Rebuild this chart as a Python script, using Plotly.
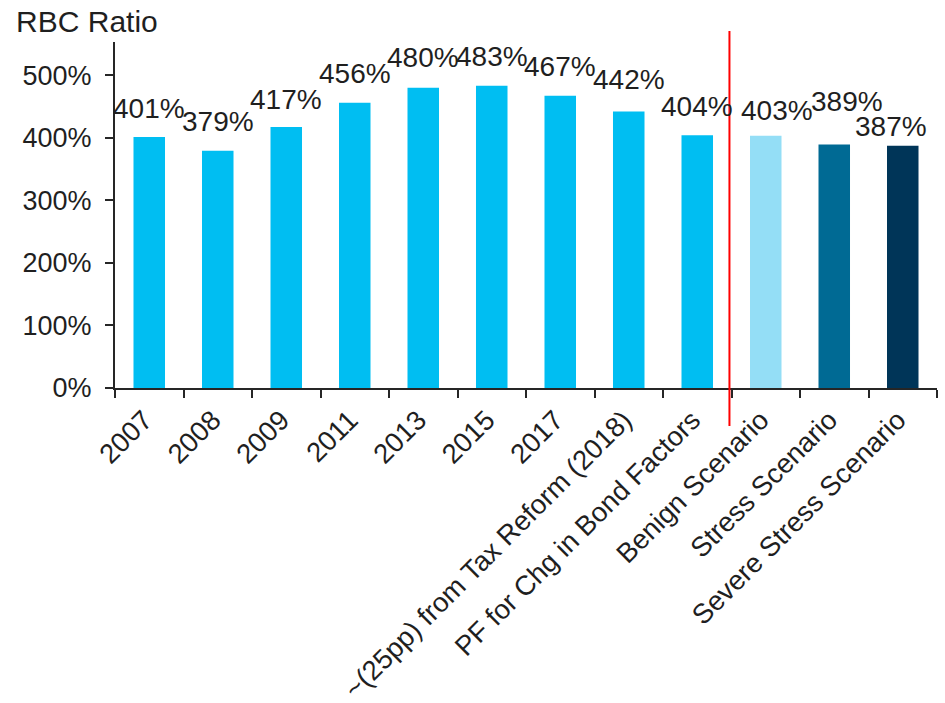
import plotly.graph_objects as go

# RBC ratio history, pro-forma adjustments and scenarios
categories = [
    "2007", "2008", "2009", "2011", "2013", "2015", "2017",
    "~(25pp) from Tax Reform (2018)", "PF for Chg in Bond Factors",
    "Benign Scenario", "Stress Scenario", "Severe Stress Scenario",
]
rbc_ratio = [401, 379, 417, 456, 480, 483, 467, 442, 404, 403, 389, 387]
value_labels = ["401%", "379%", "417%", "456%", "480%", "483%", "467%",
                "442%", "404%", "403%", "389%", "387%"]
y_tick_values = [0, 100, 200, 300, 400, 500]
y_tick_labels = ["0%", "100%", "200%", "300%", "400%", "500%"]

# bar colours: history in cyan, scenarios in progressively darker blues
bar_colors = ["#00BEF2"] * 9 + ["#94DEF6", "#006A94", "#003558"]

# per-label nudges (pixels) so the crowded labels stay legible
label_xshift = [0, 0, 0, 0, 0, 0, 0, 0, 0, 11, 13, -12]
label_yshift = [29, 29, 28, 29, 30, 29, 29, 32, 29, 25, 43, 19]

FONT = "Liberation Sans, Arial, sans-serif"
INK = "#1f1f1f"

fig = go.Figure(
    go.Bar(
        x=categories,
        y=rbc_ratio,
        marker=dict(color=bar_colors, line=dict(width=0)),
        width=0.46,
        hoverinfo="skip",
    )
)

# value labels, positioned by category index on the category axis
for idx, (val, txt, dx, dy) in enumerate(zip(rbc_ratio, value_labels,
                                             label_xshift, label_yshift)):
    fig.add_annotation(
        x=idx, y=val, text=txt, showarrow=False,
        xanchor="center", yanchor="middle",
        xshift=dx, yshift=dy,
        font=dict(family=FONT, size=28, color=INK),
    )

# divider between actuals and scenarios
fig.add_shape(
    type="line", xref="x", yref="paper",
    x0=8.47, x1=8.47, y0=-0.11, y1=1.032,
    line=dict(color="#FF0000", width=2),
)

fig.update_layout(
    width=945, height=703,
    margin=dict(l=115, r=8, t=42, b=315, autoexpand=False),
    paper_bgcolor="white", plot_bgcolor="white",
    showlegend=False,
    font=dict(family=FONT, size=27, color=INK),
    title=dict(
        text="RBC Ratio", x=0.017, xanchor="left", xref="container",
        y=0.984, yanchor="top", yref="container",
        font=dict(family=FONT, size=30, color=INK),
        pad=dict(t=0, l=0, b=0, r=0),
    ),
    xaxis=dict(
        type="category",
        categoryorder="array", categoryarray=categories,
        range=[-0.5, 11.5],
        tickangle=-45,
        tickson="boundaries",
        ticks="outside", ticklen=8, tickwidth=2, tickcolor="#262626",
        ticklabelstandoff=3, ticklabelshift=-5,
        showline=True, linecolor="#262626", linewidth=2,
        showgrid=False, zeroline=False,
        tickfont=dict(family=FONT, size=27.5, color=INK),
        automargin=False,
    ),
    yaxis=dict(
        range=[0, 553],
        tickmode="array", tickvals=y_tick_values, ticktext=y_tick_labels,
        ticks="outside", ticklen=8, tickwidth=2, tickcolor="#262626",
        ticklabelstandoff=8,
        showline=True, linecolor="#262626", linewidth=2,
        showgrid=False, zeroline=False,
        tickfont=dict(family=FONT, size=27, color=INK),
        automargin=False,
    ),
)

fig.write_html("out.html")
